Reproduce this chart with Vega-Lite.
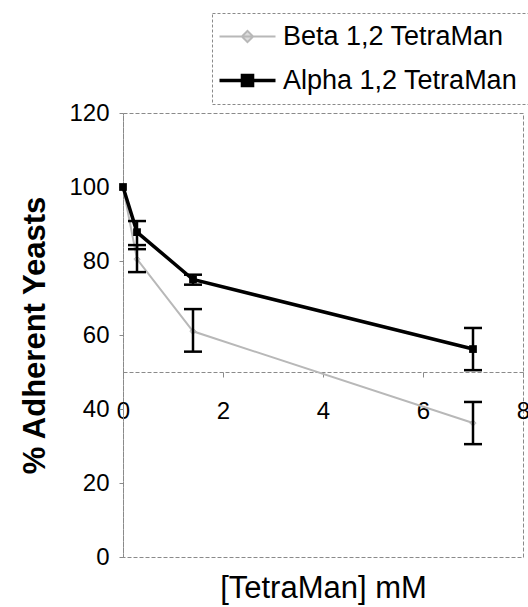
{
  "$schema": "https://vega.github.io/schema/vega-lite/v6.json",
  "width": 400,
  "height": 444,
  "autosize": "none",
  "padding": {"left": 123, "top": 113, "right": 5, "bottom": 50},
  "background": "white",
  "config": {
    "view": {"stroke": "#8a8a8a", "strokeDash": [4, 2], "strokeWidth": 1},
    "font": "Liberation Sans"
  },
  "data": {
    "values": [
      {"series": "Beta 1,2 TetraMan", "conc": 0, "pct": 100, "lo": null, "hi": null},
      {"series": "Beta 1,2 TetraMan", "conc": 0.28, "pct": 80.5, "lo": 77, "hi": 84.3},
      {"series": "Beta 1,2 TetraMan", "conc": 1.4, "pct": 61, "lo": 55.5, "hi": 67},
      {"series": "Beta 1,2 TetraMan", "conc": 7, "pct": 36.2, "lo": 30.5, "hi": 41.9},
      {"series": "Alpha 1,2 TetraMan", "conc": 0, "pct": 100, "lo": null, "hi": null},
      {"series": "Alpha 1,2 TetraMan", "conc": 0.28, "pct": 87.8, "lo": 83.2, "hi": 90.8},
      {"series": "Alpha 1,2 TetraMan", "conc": 1.4, "pct": 75, "lo": 73.6, "hi": 76.3},
      {"series": "Alpha 1,2 TetraMan", "conc": 7, "pct": 56.2, "lo": 50.5, "hi": 61.9}
    ]
  },
  "encoding": {
    "x": {
      "field": "conc", "type": "quantitative",
      "scale": {"domain": [0, 8], "nice": false, "zero": false},
      "axis": {
        "values": [0, 2, 4, 6, 8], "offset": -185, "grid": false,
        "domainColor": "#8a8a8a", "domainDash": [4, 2], "domainWidth": 1,
        "tickColor": "#8a8a8a", "tickSize": 5, "tickWidth": 1,
        "labelFont": "Liberation Sans", "labelFontSize": 24, "labelColor": "#000", "labelPadding": 22,
        "labelFlush": false, "labelOverlap": false,
        "title": "[TetraMan] mM", "titleFont": "Liberation Sans", "titleFontSize": 31,
        "titleFontWeight": "normal", "titleColor": "#000", "titlePadding": 150
      }
    },
    "y": {
      "field": "pct", "type": "quantitative",
      "scale": {"domain": [0, 120], "nice": false},
      "axis": {
        "values": [0, 20, 40, 60, 80, 100, 120], "grid": false,
        "domainColor": "#8a8a8a", "domainDash": [4, 2], "domainWidth": 1,
        "tickColor": "#8a8a8a", "tickSize": 4, "tickWidth": 1,
        "labelFont": "Liberation Sans", "labelFontSize": 24, "labelColor": "#000", "labelPadding": 10,
        "labelFlush": false, "labelOverlap": false,
        "title": "% Adherent Yeasts", "titleFont": "Liberation Sans", "titleFontSize": 31,
        "titleFontWeight": "bold", "titleColor": "#000", "titlePadding": 17
      }
    }
  },
  "layer": [
    {
      "mark": {"type": "line", "interpolate": "linear"},
      "encoding": {
        "color": {
          "field": "series", "type": "nominal",
          "scale": {"domain": ["Beta 1,2 TetraMan", "Alpha 1,2 TetraMan"], "range": ["#b8b8b8", "#000000"]},
          "legend": {
            "orient": "none", "legendX": 89, "legendY": -100, "title": null,
            "padding": 10, "strokeColor": "#8a8a8a",
            "labelFont": "Liberation Sans", "labelFontSize": 27, "labelColor": "#000", "labelLimit": 500,
            "symbolSize": 3136, "symbolType": "M-1,0H1", "symbolOffset": 12, "labelOffset": 22, "rowPadding": 16,
            "symbolStrokeWidth": 3,
            "encode": {
              "legend": {"update": {"strokeDash": {"value": [3, 2]}}},
              "symbols": {
                "update": {
                  "shape": {"signal": "datum.value === 'Alpha 1,2 TetraMan' ? 'M-1,0H1M-0.18,-0.18H0.18V0.18H-0.18Z' : 'M-1,0H1M0,-0.2L0.2,0L0,0.2L-0.2,0Z'"},
                  "stroke": {"signal": "datum.value === 'Alpha 1,2 TetraMan' ? '#000000' : '#a8a8a8'"},
                  "fill": {"signal": "datum.value === 'Alpha 1,2 TetraMan' ? '#000000' : '#dddddd'"},
                  "strokeWidth": {"signal": "datum.value === 'Alpha 1,2 TetraMan' ? 3.5 : 2"},
                  "opacity": {"value": 1}
                }
              }
            }
          }
        },
        "strokeWidth": {"condition": {"test": "datum.series === 'Alpha 1,2 TetraMan'", "value": 3.5}, "value": 2}
      }
    },
    {
      "transform": [{"filter": "datum.series === 'Beta 1,2 TetraMan'"}],
      "mark": {"type": "point", "shape": "diamond", "filled": true, "size": 40, "color": "#c8c8c8", "stroke": "#a0a0a0", "strokeWidth": 1}
    },
    {
      "transform": [{"filter": "datum.series === 'Alpha 1,2 TetraMan'"}],
      "mark": {"type": "square", "size": 60, "color": "#000000", "opacity": 1}
    },
    {
      "transform": [{"filter": "datum.lo != null"}],
      "mark": {"type": "rule", "color": "#000000", "strokeWidth": 2.5},
      "encoding": {"y": {"field": "lo", "type": "quantitative"}, "y2": {"field": "hi"}}
    },
    {
      "transform": [{"filter": "datum.lo != null"}],
      "mark": {"type": "tick", "orient": "horizontal", "color": "#000000", "size": 18, "thickness": 2.5, "opacity": 1},
      "encoding": {"y": {"field": "lo", "type": "quantitative"}}
    },
    {
      "transform": [{"filter": "datum.lo != null"}],
      "mark": {"type": "tick", "orient": "horizontal", "color": "#000000", "size": 18, "thickness": 2.5, "opacity": 1},
      "encoding": {"y": {"field": "hi", "type": "quantitative"}}
    }
  ]
}
